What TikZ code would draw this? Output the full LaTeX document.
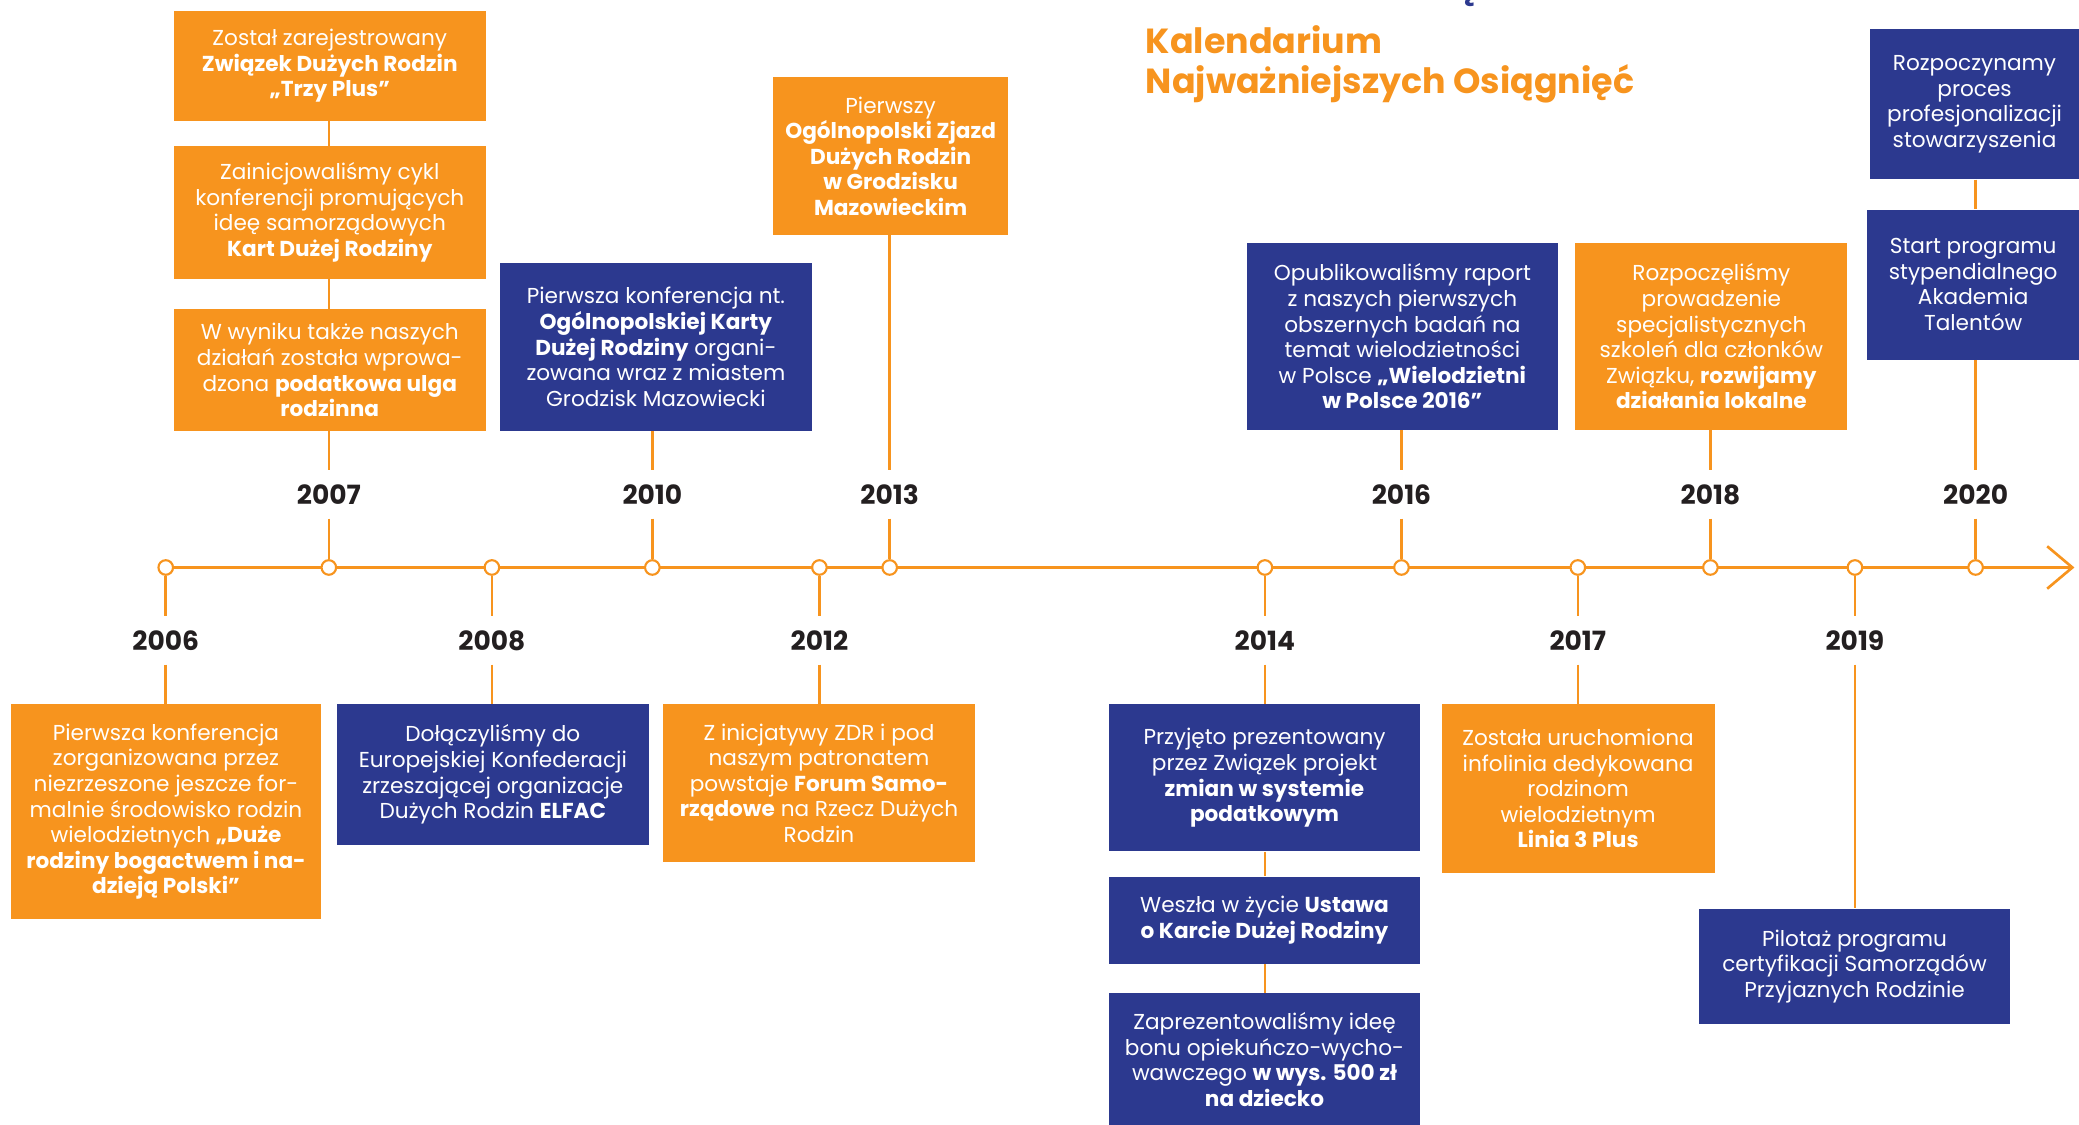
\documentclass[tikz,border=0pt]{standalone}
\usepackage{fontspec}
\setmainfont{Poppins}
\usetikzlibrary{arrows.meta}
\definecolor{zorange}{HTML}{F7941E}
\definecolor{zblue}{HTML}{2C398F}
\definecolor{zdark}{HTML}{231F20}
\newcommand\zboxfont{\fontsize{16.3}{19.3}\selectfont}
\newcommand\zyearfont{\fontsize{20}{24}\selectfont\bfseries}
\newcommand\ztitlefont{\fontsize{26.3}{30}\selectfont\bfseries}
\tikzset{
  zbx/.style={anchor=north west, inner sep=2pt, align=center, text=white, font=\zboxfont},
  obox/.style={zbx, fill=zorange},
  bbox/.style={zbx, fill=zblue},
  conn/.style={draw=zorange, line width=2pt},
  dot/.style={circle, draw=zorange, fill=white, line width=1.6pt, minimum size=11pt, inner sep=0pt},
  year/.style={font=\zyearfont, text=zdark, inner sep=0pt, minimum height=36pt},
}
\begin{document}
\begin{tikzpicture}[x=1pt,y=-1pt]
\useasboundingbox (0,0) rectangle (1568,848);
% title
\node[anchor=base, text=zblue, font=\ztitlefont, inner sep=0pt] (frag) at (1109,0) {ę};
\node[anchor=north west, text=zorange, font=\ztitlefont, align=left, inner sep=0pt] (title) at (864,19) {Kalendarium\\Najważniejszych Osiągnięć};
% axis
\coordinate (axstart) at (125,428);
\coordinate (axend) at (1563,428);
\draw[conn] (axstart) -- (axend);
\draw[conn, line join=miter] ([shift={(-19,-16)}]axend) -- (axend) -- ([shift={(-19,16)}]axend);
% circles
\foreach \n/\x in {2006/125,2007/248,2008/371,2010/492,2012/618,2013/671,2014/954,2016/1057,2017/1190,2018/1290,2019/1399,2020/1490}
  \node[dot] (c\n) at (\x,428) {};
% years above
\foreach \n/\x in {2007/248,2010/492,2013/671,2016/1057,2018/1290,2020/1490}
  \node[year] (y\n) at (\x,373) {\n};
% years below
\foreach \n/\x in {2006/125,2008/371,2012/618,2014/954,2017/1190,2019/1399}
  \node[year] (y\n) at (\x,483) {\n};
% top boxes
\node[obox, minimum width=235pt, minimum height=83pt] (a1) at (131,8) {Został zarejestrowany\\\textbf{Związek Dużych Rodzin}\\\textbf{„Trzy Plus”}};
\node[obox, minimum width=235pt, minimum height=100pt] (a2) at (131,110) {Zainicjowaliśmy cykl\\konferencji promujących\\ideę samorządowych\\\textbf{Kart Dużej Rodziny}};
\node[obox, minimum width=235pt, minimum height=92pt] (a3) at (131,233) {W wyniku także naszych\\działań została wprowa-\\dzona \textbf{podatkowa ulga}\\\textbf{rodzinna}};
\node[bbox, minimum width=235pt, minimum height=127pt] (b) at (377,198) {Pierwsza konferencja nt.\\\textbf{Ogólnopolskiej Karty}\\\textbf{Dużej Rodziny} organi-\\zowana wraz z miastem\\Grodzisk Mazowiecki};
\node[obox, minimum width=177pt, minimum height=119pt] (c) at (583,58) {Pierwszy\\\textbf{Ogólnopolski Zjazd}\\\textbf{Dużych Rodzin}\\\textbf{w Grodzisku}\\\textbf{Mazowieckim}};
\node[bbox, minimum width=235pt, minimum height=141pt] (d) at (940,183) {Opublikowaliśmy raport\\z naszych pierwszych\\obszernych badań na\\temat wielodzietności\\w Polsce \textbf{„Wielodzietni}\\\textbf{w Polsce 2016”}};
\node[obox, minimum width=205pt, minimum height=141pt] (e) at (1188,183) {Rozpoczęliśmy\\prowadzenie\\specjalistycznych\\szkoleń dla członków\\Związku, \textbf{rozwijamy}\\\textbf{działania lokalne}};
\node[bbox, minimum width=158pt, minimum height=113pt] (f1) at (1410,22) {Rozpoczynamy\\proces\\profesjonalizacji\\stowarzyszenia};
\node[bbox, minimum width=160pt, minimum height=113pt] (f2) at (1408,158) {Start programu\\stypendialnego\\Akademia\\Talentów};
% bottom boxes
\node[obox, minimum width=234pt, minimum height=162pt] (g) at (8,531) {Pierwsza konferencja\\zorganizowana przez\\niezrzeszone jeszcze for-\\malnie środowisko rodzin\\wielodzietnych \textbf{„Duże}\\\textbf{rodziny bogactwem i na-}\\\textbf{dzieją Polski”}};
\node[bbox, minimum width=235pt, minimum height=106pt] (h) at (254,531) {Dołączyliśmy do\\Europejskiej Konfederacji\\zrzeszającej organizacje\\Dużych Rodzin \textbf{ELFAC}};
\node[obox, minimum width=235pt, minimum height=119pt] (i) at (500,531) {Z inicjatywy ZDR i pod\\naszym patronatem\\powstaje \textbf{Forum Samo-}\\\textbf{rządowe} na Rzecz Dużych\\Rodzin};
\node[bbox, minimum width=235pt, minimum height=111pt] (j1) at (836,531) {Przyjęto prezentowany\\przez Związek projekt\\\textbf{zmian w systemie}\\\textbf{podatkowym}};
\node[bbox, minimum width=235pt, minimum height=66pt] (j2) at (836,661) {Weszła w życie \textbf{Ustawa}\\\textbf{o Karcie Dużej Rodziny}};
\node[bbox, minimum width=235pt, minimum height=100pt] (j3) at (836,749) {Zaprezentowaliśmy ideę\\bonu opiekuńczo-wycho-\\wawczego \textbf{w wys. 500 zł}\\\textbf{na dziecko}};
\node[obox, minimum width=206pt, minimum height=127pt] (k) at (1087,531) {Została uruchomiona\\infolinia dedykowana\\rodzinom\\wielodzietnym\\\textbf{Linia 3 Plus}};
\node[bbox, minimum width=235pt, minimum height=87pt] (l) at (1281,685) {Pilotaż programu\\certyfikacji Samorządów\\Przyjaznych Rodzinie};
% connectors top
\draw[conn] (a1.south -| c2007) -- (a2.north -| c2007);
\draw[conn] (a2.south -| c2007) -- (a3.north -| c2007);
\draw[conn] (a3.south -| c2007) -- (y2007.north);
\draw[conn] (b.south -| c2010) -- (y2010.north);
\draw[conn] (c.south -| c2013) -- (y2013.north);
\draw[conn] (d.south -| c2016) -- (y2016.north);
\draw[conn] (e.south -| c2018) -- (y2018.north);
\draw[conn] (f1.south -| c2020) -- (f2.north -| c2020);
\draw[conn] (f2.south -| c2020) -- (y2020.north);
\foreach \n in {2007,2010,2013,2016,2018,2020}
  \draw[conn] (y\n.south) -- (c\n.north);
% connectors bottom
\foreach \n in {2006,2008,2012,2014,2017,2019}
  \draw[conn] (c\n.south) -- (y\n.north);
\draw[conn] (y2006.south) -- (g.north -| c2006);
\draw[conn] (y2008.south) -- (h.north -| c2008);
\draw[conn] (y2012.south) -- (i.north -| c2012);
\draw[conn] (y2014.south) -- (j1.north -| c2014);
\draw[conn] (j1.south -| c2014) -- (j2.north -| c2014);
\draw[conn] (j2.south -| c2014) -- (j3.north -| c2014);
\draw[conn] (y2017.south) -- (k.north -| c2017);
\draw[conn] (y2019.south) -- (l.north -| c2019);
\end{tikzpicture}
\end{document}
